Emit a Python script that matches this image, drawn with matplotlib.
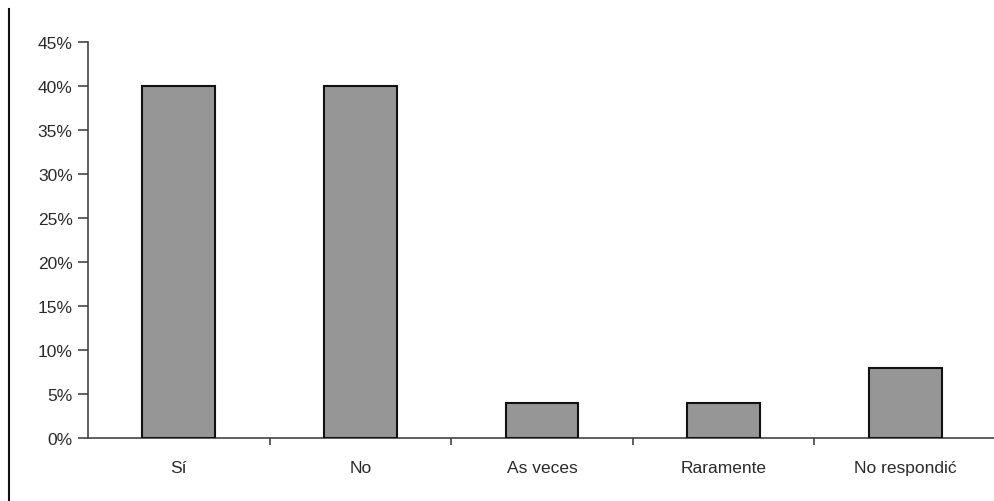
import matplotlib
matplotlib.use("Agg")
import matplotlib.pyplot as plt
from matplotlib.lines import Line2D
from matplotlib.ticker import FixedLocator

categories = ["Sí", "No", "As veces", "Raramente", "No respondić"]
values = [40, 40, 4, 4, 8]
yticks = [0, 5, 10, 15, 20, 25, 30, 35, 40, 45]
ytick_labels = [f"{v}%" for v in yticks]

plt.rcParams['font.family'] = ['Liberation Sans', 'DejaVu Sans']

W, H = 995, 502
fig = plt.figure(figsize=(W / 100, H / 100), dpi=100)
ax = fig.add_axes([88 / W, 63 / H, (996 - 88) / W, (439 - 43) / H])

x = list(range(len(categories)))
ax.bar(x, values, width=0.4, color="#969696", edgecolor="#111111", linewidth=1.5, zorder=3)

ax.set_xlim(-0.5, len(categories) - 0.5)
ax.set_ylim(0, 45)
ax.set_yticks(yticks)
ax.set_yticklabels(ytick_labels)
ax.set_xticks(x)
ax.set_xticklabels(categories)
ax.xaxis.set_minor_locator(FixedLocator([i + 0.5 for i in range(len(categories) - 1)]))

ax.tick_params(axis='x', which='major', length=0, pad=16, labelsize=12.5, labelcolor="#2a2a2a")
ax.tick_params(axis='x', which='minor', length=5, width=1.2, color="#444444", direction='out')
ax.tick_params(axis='y', length=7, width=1.2, color="#444444", direction='out', pad=4,
               labelsize=12.5, labelcolor="#2a2a2a")

for s in ['top', 'right']:
    ax.spines[s].set_visible(False)
for s in ['left', 'bottom']:
    ax.spines[s].set_color("#444444")
    ax.spines[s].set_linewidth(1.2)

fig.add_artist(Line2D([9 / W, 9 / W], [0, 1 - 10 / H], color="#111111", linewidth=1.5,
                      transform=fig.transFigure))

fig.savefig("out.png", dpi=100)
